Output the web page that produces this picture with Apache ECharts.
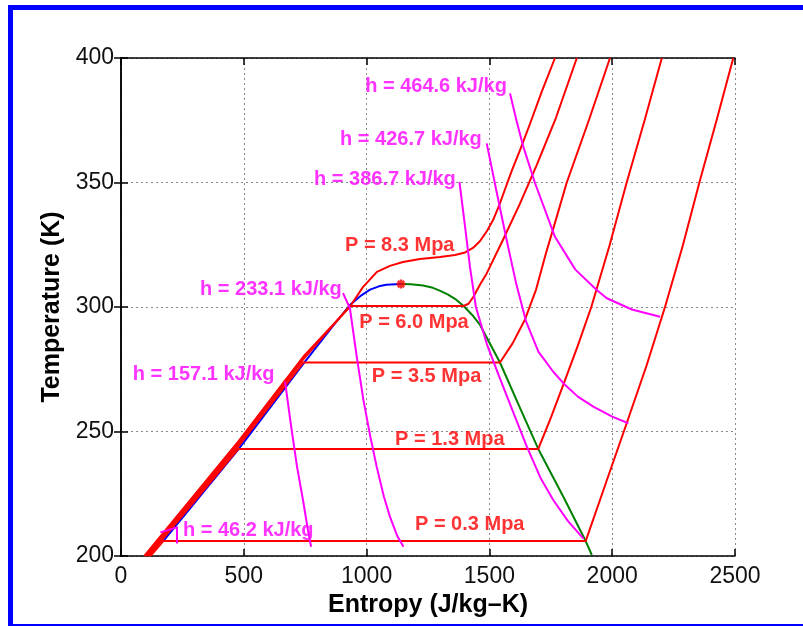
<!DOCTYPE html>
<html><head><meta charset="utf-8">
<script src="https://cdn.jsdelivr.net/npm/echarts@6/dist/echarts.min.js"></script>
<style>html,body{margin:0;padding:0;background:#fff}#c{width:803px;height:626px}</style>
</head><body><div id="c"></div>
<script>
// ---- axis ticks ----
const xTicks = [0, 500, 1000, 1500, 2000, 2500];
const yTicks = [200, 250, 300, 350, 400];

// ---- saturation dome [entropy J/kg-K, temperature K] ----
const satLiquid = [[172,206],[478,242.8],[742,277.2],[860,292],[932,300.8],[980,304.8],[1014,307],[1050,308.3],[1080,308.9],[1140,309.2]];
const satVapor = [[1140,309.2],[1180,309.1],[1230,308.6],[1270,307.7],[1300,306.5],[1330,305.1],[1360,303.3],[1395,300.4],[1430,296.8],[1462,292.8],[1543,277.7],[1620,260.5],[1699,243.0],[1800,224],[1892,206],[1917,200.4]];
const criticalPoint = [[1140,309.2]];

// ---- isobars ----
const isobar03 = [[120,200],[172,206],[1892,206],[1975,229.5],[2059,253.3],[2140,276.5],[2215,300],[2287,324.5],[2355,350],[2425,375],[2493,400]];
const isobar13 = [[113,200],[172,207],[478,243],[1699,243],[1750,255.5],[1800,268.5],[1860,284.5],[1915,300],[1990,325],[2059,350],[2132,375],[2202,400]];
const isobar35 = [[107,200],[478,244],[742,277.7],[1543,277.7],[1595,285.5],[1645,295],[1690,307],[1730,321.5],[1775,336.5],[1815,350],[1905,375],[1991,400]];
const isobar60 = [[101,200],[478,245],[742,279],[932,300.4],[1395,300.4],[1415,301.3],[1435,304.1],[1462,309],[1489,313.5],[1555,326.9],[1624,341.4],[1693,357.1],[1771,376],[1856,400]];
const isobar83 = [[95,200],[478,246],[742,280],[932,300.1],[985,308],[1042,314.1],[1095,316.5],[1148,318.1],[1217,319.3],[1299,320.1],[1360,320.9],[1401,321.9],[1433,323.7],[1462,326.5],[1490,330.5],[1515,334.9],[1539,340.6],[1564,347.4],[1592,355],[1625,363.1],[1665,373.5],[1714,386.7],[1767,400]];

// ---- isenthalps ----
const h464 = [[1584,385.8],[1610,375],[1638,364.4],[1686,349.7],[1767,328.2],[1850,315],[1937,306.8],[1978,303.5],[2080,299],[2195,296.1]];
const h427 = [[1489,365.7],[1530,346],[1570,327],[1610,309],[1650,294],[1700,282],[1760,274],[1801,269.4],[1860,264],[1923,260],[2000,256],[2066,253.3]];
const h387 = [[1378,350.3],[1400,333],[1421,316],[1445,300],[1490,285],[1540,272],[1600,257],[1652,244],[1710,231],[1760,222.5],[1820,214],[1883,207]];
const h233 = [[904,305.6],[932,299.5],[960,280],[987,262.7],[1015,248],[1041,235.9],[1070,224],[1095,215.8],[1125,208],[1150,203.7]];
const h157 = [[668,270],[692,252.6],[717,235.7],[741,222.5],[761,210.5],[774,203.7]];
const h46 = [[160,209.5],[228,211.5],[228,205]];

// ---- annotation texts with anchor (left edge, vertical centre) in data units ----
const isenthalpLabels = [
  ['h = 464.6 kJ/kg', 994, 388.4],
  ['h = 426.7 kJ/kg', 892, 367.1],
  ['h = 386.7 kJ/kg', 786, 351.4],
  ['h = 233.1 kJ/kg', 322, 307.2],
  ['h = 157.1 kJ/kg', 48, 272.7],
  ['h = 46.2 kJ/kg', 252, 210.4]
];
const isobarLabels = [
  ['P = 8.3 Mpa', 912, 324.9],
  ['P = 6.0 Mpa', 970, 293.6],
  ['P = 3.5 Mpa', 1021, 272.1],
  ['P = 1.3 Mpa', 1116, 246.6],
  ['P = 0.3 Mpa', 1197, 212.5]
];

const RED = '#ff0000', BLUE = '#0000ff', GREEN = '#008000', MAG = '#ff00ff';
const FONT = 'Liberation Sans, Arial, Helvetica, sans-serif';

function line(data, color, z) {
  return { type: 'line', data: data, showSymbol: false, symbol: 'none', silent: true, animation: false,
    lineStyle: { color: color, width: 2, join: 'round' }, z: z, clip: true };
}
function labels(arr, color) {
  return { type: 'scatter', symbolSize: 0, silent: true, animation: false, z: 10,
    data: arr.map(a => ({ value: [a[1], a[2]], label: { formatter: a[0] } })),
    label: { show: true, position: [0, 0], align: 'left', verticalAlign: 'middle',
      color: color, fontSize: 20, fontWeight: 'bold', fontFamily: FONT } };
}

const axisLineStyle = { color: '#000', width: 1.5 };
const split = { show: true, lineStyle: { color: '#8a8a8a', width: 1, type: [2, 3] } };
const plain = v => String(v);

const chart = echarts.init(document.getElementById('c'), null, { renderer: 'canvas' });
chart.setOption({
  backgroundColor: '#fff',
  animation: false,
  grid: { left: 121, right: 68, top: 58, bottom: 70 },
  xAxis: [
    { type: 'value', min: xTicks[0], max: xTicks[xTicks.length - 1], interval: xTicks[1] - xTicks[0], position: 'bottom',
      axisLine: { show: true, lineStyle: axisLineStyle }, axisTick: { show: true, inside: true, length: 7, lineStyle: axisLineStyle },
      axisLabel: { fontSize: 23, color: '#111', margin: 9, fontFamily: FONT, formatter: plain }, splitLine: split,
      name: 'Entropy (J/kg\u2013K)', nameLocation: 'middle', nameGap: 30,
      nameTextStyle: { fontSize: 25, fontWeight: 'bold', color: '#000', fontFamily: FONT, verticalAlign: 'top' } },
    { type: 'value', min: xTicks[0], max: xTicks[xTicks.length - 1], interval: xTicks[1] - xTicks[0], position: 'top',
      axisLine: { show: true, lineStyle: axisLineStyle }, axisTick: { show: true, inside: true, length: 7, lineStyle: axisLineStyle },
      axisLabel: { show: false }, splitLine: { show: false } }
  ],
  yAxis: [
    { type: 'value', min: yTicks[0], max: yTicks[yTicks.length - 1], interval: yTicks[1] - yTicks[0], position: 'left',
      axisLine: { show: true, lineStyle: axisLineStyle }, axisTick: { show: true, inside: true, length: 7, lineStyle: axisLineStyle },
      axisLabel: { fontSize: 23, color: '#111', margin: 7, fontFamily: FONT, formatter: plain }, splitLine: split,
      name: 'Temperature (K)', nameLocation: 'middle', nameGap: 51,
      nameTextStyle: { fontSize: 25, fontWeight: 'bold', color: '#000', fontFamily: FONT } },
    { type: 'value', min: yTicks[0], max: yTicks[yTicks.length - 1], interval: yTicks[1] - yTicks[0], position: 'right',
      axisLine: { show: true, lineStyle: axisLineStyle }, axisTick: { show: true, inside: true, length: 7, lineStyle: axisLineStyle },
      axisLabel: { show: false }, splitLine: { show: false } }
  ],
  graphic: [
    { type: 'rect', shape: { x: 8, y: 5, width: 795, height: 5 }, style: { fill: '#0000ff' }, z: 100 },
    { type: 'rect', shape: { x: 8, y: 5, width: 5, height: 621 }, style: { fill: '#0000ff' }, z: 100 },
    { type: 'rect', shape: { x: 8, y: 624, width: 795, height: 2 }, style: { fill: '#0000ff' }, z: 100 }
  ],
  series: [
    line(satLiquid, BLUE, 2),
    line(satVapor, GREEN, 2),
    line(isobar03, RED, 3),
    line(isobar13, RED, 3),
    line(isobar35, RED, 3),
    line(isobar60, RED, 3),
    line(isobar83, RED, 3),
    line(h464, MAG, 4),
    line(h427, MAG, 4),
    line(h387, MAG, 4),
    line(h233, MAG, 4),
    line(h157, MAG, 4),
    line(h46, MAG, 4),
    { type: 'scatter', data: criticalPoint, symbol: 'path://M5,0 L5,10 M0,5 L10,5 M1.5,1.5 L8.5,8.5 M1.5,8.5 L8.5,1.5',
      symbolSize: 9, itemStyle: { color: 'none', borderColor: RED, borderWidth: 2.5 }, z: 6, silent: true, animation: false },
    labels(isenthalpLabels, MAG),
    labels(isobarLabels, RED)
  ]
});
</script></body></html>
